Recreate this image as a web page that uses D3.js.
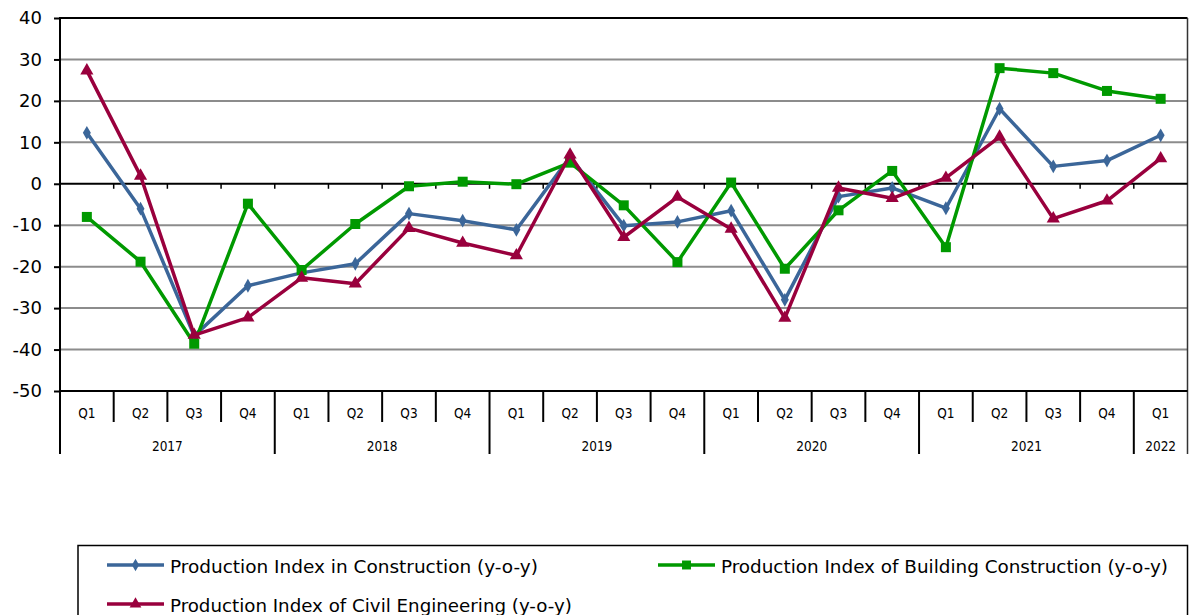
<!DOCTYPE html>
<html>
<head>
<meta charset="utf-8">
<script src="https://cdn.jsdelivr.net/npm/d3@7"></script>
<style>
  html, body { margin: 0; padding: 0; background: #fff; }
  svg { display: block; }
</style>
</head>
<body>
<svg id="chart" width="1189" height="615"></svg>
<script>
// Quarterly categories (2017 Q1 .. 2022 Q1)
const years    = ["2017", "2018", "2019", "2020", "2021", "2022"];
const quarters = ["Q1","Q2","Q3","Q4","Q1","Q2","Q3","Q4","Q1","Q2","Q3","Q4",
                  "Q1","Q2","Q3","Q4","Q1","Q2","Q3","Q4","Q1"];
const quarterYear = ["2017","2017","2017","2017","2018","2018","2018","2018",
                     "2019","2019","2019","2019","2020","2020","2020","2020",
                     "2021","2021","2021","2021","2022"];

// Year-on-year change, %
const construction = [12.3, -6.0, -36.7, -24.6, -21.5, -19.3, -7.2, -8.9, -11.1, 6.5, -10.1, -9.2,
                      -6.5, -28.0, -3.1, -1.0, -5.9, 18.1, 4.2, 5.6, 11.7];
const building     = [-8.0, -18.8, -38.6, -4.8, -20.8, -9.7, -0.6, 0.5, -0.1, 5.1, -5.2, -18.9,
                      0.3, -20.5, -6.4, 3.1, -15.3, 27.9, 26.7, 22.4, 20.5];
const civil        = [27.3, 1.9, -36.5, -32.3, -22.7, -24.1, -10.7, -14.3, -17.3, 7.0, -12.9, -3.2,
                      -10.9, -32.4, -1.0, -3.5, 1.4, 11.3, -8.4, -4.1, 6.1];

const yTicks = [40, 30, 20, 10, 0, -10, -20, -30, -40, -50];

const seriesNames = [
  "Production Index in Construction (y-o-y)",
  "Production Index of Building Construction (y-o-y)",
  "Production Index of Civil Engineering (y-o-y)"
];

const series = [
  { name: seriesNames[0], values: construction, color: "#3b6699", symbol: d3.symbolDiamond, size: 55 },
  { name: seriesNames[1], values: building,     color: "#009900", symbol: d3.symbolSquare,  size: 100 },
  { name: seriesNames[2], values: civil,        color: "#99003d", symbol: d3.symbolTriangle, size: 75 }
];

const svg = d3.select("#chart");
const plotLeft = 60, plotRight = 1187.5, plotTop = 18, plotBottom = 391;

const idx = d3.range(quarters.length);
const x = d3.scaleBand().domain(idx).range([plotLeft, plotRight]).padding(0);
const cx = i => x(i) + x.bandwidth() / 2;
const y = d3.scaleLinear().domain([-50, 40]).range([plotBottom, plotTop]);

// Horizontal gridlines
svg.append("g")
  .selectAll("line")
  .data(yTicks.filter(t => t !== 0 && t !== 40 && t !== -50))
  .join("line")
  .attr("x1", plotLeft).attr("x2", plotRight)
  .attr("y1", d => y(d)).attr("y2", d => y(d))
  .attr("stroke", "#8c8c8c").attr("stroke-width", 2);

// Top border and right border
svg.append("line").attr("x1", plotLeft).attr("x2", plotRight)
  .attr("y1", y(40)).attr("y2", y(40))
  .attr("stroke", "#000").attr("stroke-width", 2);
svg.append("line").attr("x1", plotRight).attr("x2", plotRight)
  .attr("y1", y(40)).attr("y2", 454)
  .attr("stroke", "#333").attr("stroke-width", 1.5);

// Vertical axis
const yAxis = d3.axisLeft(y).tickValues(yTicks).tickSize(6).tickPadding(12).tickFormat(d => String(d));
const gy = svg.append("g").attr("transform", `translate(${plotLeft},0)`).call(yAxis);
gy.select(".domain").remove();
gy.selectAll(".tick line").attr("stroke", "#000").attr("stroke-width", 2);
gy.selectAll(".tick text")
  .attr("fill", "#000")
  .style("font-family", "'DejaVu Sans', Verdana, sans-serif")
  .style("font-size", "18px");
svg.append("line").attr("x1", plotLeft).attr("x2", plotLeft)
  .attr("y1", y(40) - 1).attr("y2", 454)
  .attr("stroke", "#000").attr("stroke-width", 2);

// Zero line with small category ticks
svg.append("line").attr("x1", plotLeft).attr("x2", plotRight)
  .attr("y1", y(0)).attr("y2", y(0))
  .attr("stroke", "#000").attr("stroke-width", 2);
svg.append("g").selectAll("line")
  .data(idx.slice(1))
  .join("line")
  .attr("x1", d => x(d)).attr("x2", d => x(d))
  .attr("y1", y(0)).attr("y2", y(0) + 5)
  .attr("stroke", "#000").attr("stroke-width", 1.5);

// Bottom axis line
svg.append("line").attr("x1", plotLeft).attr("x2", plotRight)
  .attr("y1", y(-50)).attr("y2", y(-50))
  .attr("stroke", "#000").attr("stroke-width", 2);

// Category dividers: quarters short, year boundaries long
const isYearStart = i => i > 0 && quarterYear[i] !== quarterYear[i - 1];
svg.append("g").selectAll("line")
  .data(idx.slice(1))
  .join("line")
  .attr("x1", d => x(d)).attr("x2", d => x(d))
  .attr("y1", y(-50)).attr("y2", d => isYearStart(d) ? 454 : 422)
  .attr("stroke", "#000").attr("stroke-width", 2);

const labelFont = "'DejaVu Sans Condensed', 'Liberation Sans Narrow', sans-serif";
svg.append("g").selectAll("text")
  .data(idx)
  .join("text")
  .attr("x", d => cx(d)).attr("y", 418)
  .attr("text-anchor", "middle")
  .style("font-family", labelFont).style("font-size", "13.5px")
  .text(d => quarters[d]);

svg.append("g").selectAll("text")
  .data(years)
  .join("text")
  .attr("x", yr => {
    const ids = idx.filter(i => quarterYear[i] === yr);
    return (x(ids[0]) + x(ids[ids.length - 1]) + x.bandwidth()) / 2;
  })
  .attr("y", 451)
  .attr("text-anchor", "middle")
  .style("font-family", labelFont).style("font-size", "13.5px")
  .text(yr => yr);

// Series lines and markers
const line = d3.line().x((d, i) => cx(i)).y(d => y(d));
series.forEach(s => {
  const g = svg.append("g");
  g.append("path").datum(s.values)
    .attr("d", line)
    .attr("fill", "none")
    .attr("stroke", s.color)
    .attr("stroke-width", 3.5)
    .attr("stroke-linejoin", "round");
  g.selectAll("path.marker")
    .data(s.values)
    .join("path")
    .attr("class", "marker")
    .attr("transform", (d, i) => `translate(${cx(i)},${y(d)})`)
    .attr("d", d3.symbol().type(s.symbol).size(s.size))
    .attr("fill", s.color);
});

// Legend
const legend = svg.append("g");
legend.append("rect")
  .attr("x", 78).attr("y", 545.5).attr("width", 1109.5).attr("height", 100)
  .attr("fill", "#fff").attr("stroke", "#000").attr("stroke-width", 1.5);

const legendPos = [
  { x: 107, y: 565, w: 368 },
  { x: 658, y: 565, w: 447 },
  { x: 107, y: 604, w: 402 }
];
series.forEach((s, i) => {
  const p = legendPos[i];
  const g = legend.append("g");
  g.append("line")
    .attr("x1", p.x).attr("x2", p.x + 57)
    .attr("y1", p.y).attr("y2", p.y)
    .attr("stroke", s.color).attr("stroke-width", 3.5);
  g.append("path")
    .attr("transform", `translate(${p.x + 28.5},${p.y})`)
    .attr("d", d3.symbol().type(s.symbol).size(s.size * 0.8))
    .attr("fill", s.color);
  g.append("text")
    .attr("x", p.x + 63).attr("y", p.y + 8)
    .attr("textLength", p.w).attr("lengthAdjust", "spacingAndGlyphs")
    .style("font-family", "'DejaVu Sans Condensed', 'DejaVu Sans', sans-serif")
    .style("font-size", "18px")
    .attr("fill", "#000")
    .text(s.name);
});
</script>
</body>
</html>
